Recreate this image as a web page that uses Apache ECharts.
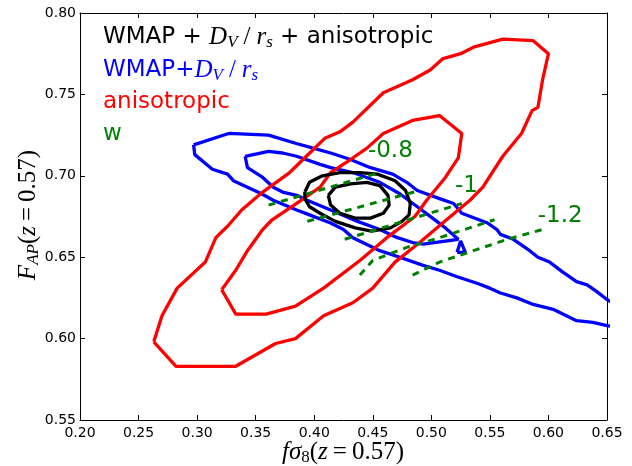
<!DOCTYPE html>
<html>
<head>
<meta charset="utf-8">
<script src="https://cdn.jsdelivr.net/npm/echarts@6/dist/echarts.min.js"></script>
<style>
  html, body { margin: 0; padding: 0; background: #fff; }
  #chart { width: 632px; height: 466px; }
</style>
</head>
<body>
<div id="chart"></div>
<script>
// contour outlines, each point is [f*sigma8, F_AP]
var blueOuter = [
  [0.297,0.719],[0.327,0.726],[0.361,0.725],[0.384,0.720],[0.399,0.717],[0.414,0.714],[0.431,0.710],
  [0.448,0.705],[0.467,0.701],[0.479,0.696],[0.488,0.691],[0.507,0.686],[0.519,0.683],[0.526,0.677],
  [0.548,0.671],[0.556,0.667],[0.559,0.664],[0.570,0.661],[0.584,0.654],[0.591,0.650],[0.601,0.647],
  [0.612,0.641],[0.624,0.635],[0.633,0.633],[0.641,0.629],[0.650,0.624],[0.659,0.620],
  [0.659,0.607],[0.650,0.608],[0.638,0.610],[0.624,0.611],[0.604,0.618],[0.587,0.621],[0.573,0.625],
  [0.559,0.628],[0.550,0.631],[0.539,0.634],[0.522,0.638],[0.507,0.642],[0.493,0.645],[0.473,0.650],
  [0.456,0.654],[0.433,0.662],[0.425,0.667],[0.414,0.671],[0.396,0.676],[0.385,0.679],[0.365,0.685],
  [0.355,0.689],[0.343,0.693],[0.331,0.697],[0.326,0.701],[0.313,0.704],[0.298,0.713]
];
var blueInner = [
  [0.341,0.712],[0.361,0.715],[0.373,0.714],[0.385,0.712],[0.405,0.707],[0.414,0.705],[0.433,0.702],
  [0.456,0.696],[0.473,0.689],[0.488,0.681],[0.501,0.674],[0.512,0.668],[0.523,0.661],[0.493,0.658],
  [0.484,0.659],[0.471,0.662],[0.456,0.667],[0.437,0.672],[0.414,0.679],[0.394,0.685],[0.385,0.688],
  [0.373,0.690],[0.365,0.693],[0.356,0.699],[0.343,0.705]
];
var blueIsland = [[0.522,0.653],[0.525,0.660],[0.529,0.653]];

var redOuter = [
  [0.263,0.598],[0.282,0.583],[0.333,0.583],[0.367,0.597],[0.384,0.600],[0.408,0.614],[0.433,0.622],
  [0.450,0.631],[0.469,0.647],[0.490,0.659],[0.513,0.673],[0.533,0.685],[0.544,0.693],[0.561,0.712],
  [0.577,0.726],[0.586,0.740],[0.591,0.742],[0.595,0.759],[0.600,0.775],[0.587,0.783],[0.561,0.784],
  [0.536,0.779],[0.525,0.775],[0.510,0.772],[0.499,0.765],[0.484,0.759],[0.459,0.751],[0.433,0.733],
  [0.422,0.727],[0.409,0.723],[0.399,0.716],[0.379,0.702],[0.356,0.690],[0.338,0.679],[0.326,0.669],
  [0.316,0.662],[0.307,0.647],[0.283,0.631],[0.270,0.614]
];
var redInner = [
  [0.321,0.630],[0.333,0.615],[0.359,0.615],[0.384,0.620],[0.408,0.631],[0.439,0.648],[0.462,0.662],
  [0.486,0.675],[0.496,0.685],[0.512,0.699],[0.523,0.711],[0.526,0.726],[0.507,0.737],[0.484,0.734],
  [0.459,0.726],[0.445,0.717],[0.431,0.710],[0.414,0.702],[0.405,0.693],[0.385,0.683],[0.364,0.673],
  [0.356,0.667],[0.343,0.654],[0.333,0.642]
];

var blackOuter = [
  [0.392,0.690],[0.396,0.696],[0.407,0.700],[0.422,0.702],[0.439,0.702],[0.454,0.701],[0.469,0.697],
  [0.478,0.691],[0.482,0.683],[0.481,0.676],[0.475,0.672],[0.465,0.668],[0.449,0.666],[0.435,0.668],
  [0.418,0.672],[0.405,0.677],[0.396,0.681],[0.392,0.686]
];
var blackInner = [
  [0.412,0.688],[0.418,0.693],[0.431,0.695],[0.445,0.696],[0.456,0.694],[0.463,0.688],[0.464,0.682],
  [0.459,0.677],[0.448,0.674],[0.435,0.674],[0.422,0.677],[0.414,0.682]
];

// lines of constant w (dashed green)
var wLine1 = [[0.361,0.682],[0.456,0.702]];
var wLine2 = [[0.394,0.672],[0.490,0.691]];
var wLine3 = [[0.426,0.661],[0.526,0.683]];
var wLine4 = [[0.439,0.639],[0.450,0.648],[0.479,0.656],[0.507,0.662],[0.554,0.673]];
var wLine5 = [[0.484,0.639],[0.507,0.647],[0.536,0.654],[0.565,0.661],[0.595,0.667]];
var wNames = ['-0.8', '-1', '-1.2'];
var wNameAt = [[0.465,0.715],[0.530,0.694],[0.610,0.675]];

var chart = echarts.init(document.getElementById('chart'));

function contour(pts, color) {
  return {
    type: 'line',
    data: pts.concat([pts[0]]),
    symbol: 'none',
    smooth: false,
    clip: true,
    silent: true,
    lineStyle: { color: color, width: 3.3 }
  };
}
function dashed(pts) {
  return {
    type: 'line',
    data: pts,
    symbol: 'none',
    clip: true,
    silent: true,
    lineStyle: { color: '#008000', width: 3, type: [7, 6] }
  };
}

var tickFont = { fontFamily: 'DejaVu Sans', fontSize: 14, color: '#000' };
var axisBase = {
  type: 'value',
  splitLine: { show: false },
  axisLine: { show: true, onZero: false, lineStyle: { color: '#000', width: 1 } },
  axisTick: { show: true, inside: true, length: 5, lineStyle: { color: '#000' } }
};

// graphic text goes straight to zrender, so rich tokens take fill, not color
function mathStyles(col) {
  return {
    t: { fontFamily: 'DejaVu Sans', fontSize: 23, fill: col },
    m: { fontFamily: 'Liberation Serif', fontStyle: 'italic', fontSize: 25, fill: col },
    ms: { fontFamily: 'Liberation Serif', fontStyle: 'italic', fontSize: 17, fill: col, padding: [12, 0, 0, 0] },
    n: { fontFamily: 'Liberation Serif', fontSize: 17, fill: col, padding: [12, 0, 0, 0] },
    r: { fontFamily: 'Liberation Serif', fontSize: 25, fill: col },
    sl: { fontFamily: 'Liberation Serif', fontSize: 25, fill: col, padding: [0, 6, 0, 6] }
  };
}

var option = {
  animation: false,
  backgroundColor: '#fff',
  grid: { left: 80, top: 13, width: 527, height: 407, containLabel: false },
  xAxis: [
    Object.assign({}, axisBase, {
      min: 0.2, max: 0.65, interval: 0.05, position: 'bottom',
      axisLabel: Object.assign({ margin: 6, formatter: function (v) { return v.toFixed(2); } }, tickFont)
    }),
    Object.assign({}, axisBase, {
      min: 0.2, max: 0.65, interval: 0.05, position: 'top',
      axisLabel: { show: false }
    })
  ],
  yAxis: [
    Object.assign({}, axisBase, {
      min: 0.55, max: 0.8, interval: 0.05, position: 'left',
      axisLabel: Object.assign({ margin: 4, formatter: function (v) { return v.toFixed(2); } }, tickFont)
    }),
    Object.assign({}, axisBase, {
      min: 0.55, max: 0.8, interval: 0.05, position: 'right',
      axisLabel: { show: false }
    })
  ],
  series: [
    contour(blueOuter, '#0000ff'),
    contour(blueInner, '#0000ff'),
    contour(blueIsland, '#0000ff'),
    contour(redOuter, '#ff0000'),
    contour(redInner, '#ff0000'),
    contour(blackOuter, '#000000'),
    contour(blackInner, '#000000'),
    dashed(wLine1),
    dashed(wLine2),
    dashed(wLine3),
    dashed(wLine4),
    dashed(wLine5),
    {
      type: 'scatter',
      symbolSize: 0,
      silent: true,
      itemStyle: { opacity: 1 },
      data: wNameAt.map(function (p, i) { return { value: p, name: wNames[i] }; }),
      label: {
        show: true, position: 'inside', formatter: '{b}',
        fontFamily: 'DejaVu Sans', fontSize: 23, color: '#008000',
        textBorderWidth: 0
      }
    }
  ],
  graphic: [
    {
      type: 'text', x: 103, y: 37,
      style: {
        text: '{t|WMAP + }{m|D}{ms|V}{sl|/}{m|r}{ms|s}{t| + anisotropic}',
        verticalAlign: 'middle', align: 'left', rich: mathStyles('#000000')
      }
    },
    {
      type: 'text', x: 103, y: 70,
      style: {
        text: '{t|WMAP+}{m|D}{ms|V}{sl|/}{m|r}{ms|s}',
        verticalAlign: 'middle', align: 'left', rich: mathStyles('#0000ff')
      }
    },
    {
      type: 'text', x: 103, y: 102,
      style: {
        text: 'anisotropic', fontFamily: 'DejaVu Sans', fontSize: 23, fill: '#ff0000',
        verticalAlign: 'middle', align: 'left'
      }
    },
    {
      type: 'text', x: 103, y: 134,
      style: {
        text: 'w', fontFamily: 'DejaVu Sans', fontSize: 23, fill: '#008000',
        verticalAlign: 'middle', align: 'left'
      }
    },
    {
      type: 'text', x: 343, y: 452,
      style: {
        text: '{m|fσ}{n|8}{r|(}{m|z}{r|\u2009=\u20090.57)}',
        verticalAlign: 'middle', align: 'center', rich: mathStyles('#000000')
      }
    },
    {
      type: 'text', x: 28, y: 215, rotation: Math.PI / 2,
      style: {
        text: '{m|F}{ms|AP}{r|(}{m|z}{r|\u2009=\u20090.57)}',
        verticalAlign: 'middle', align: 'center', rich: mathStyles('#000000')
      }
    }
  ]
};

chart.setOption(option);
</script>
</body>
</html>
